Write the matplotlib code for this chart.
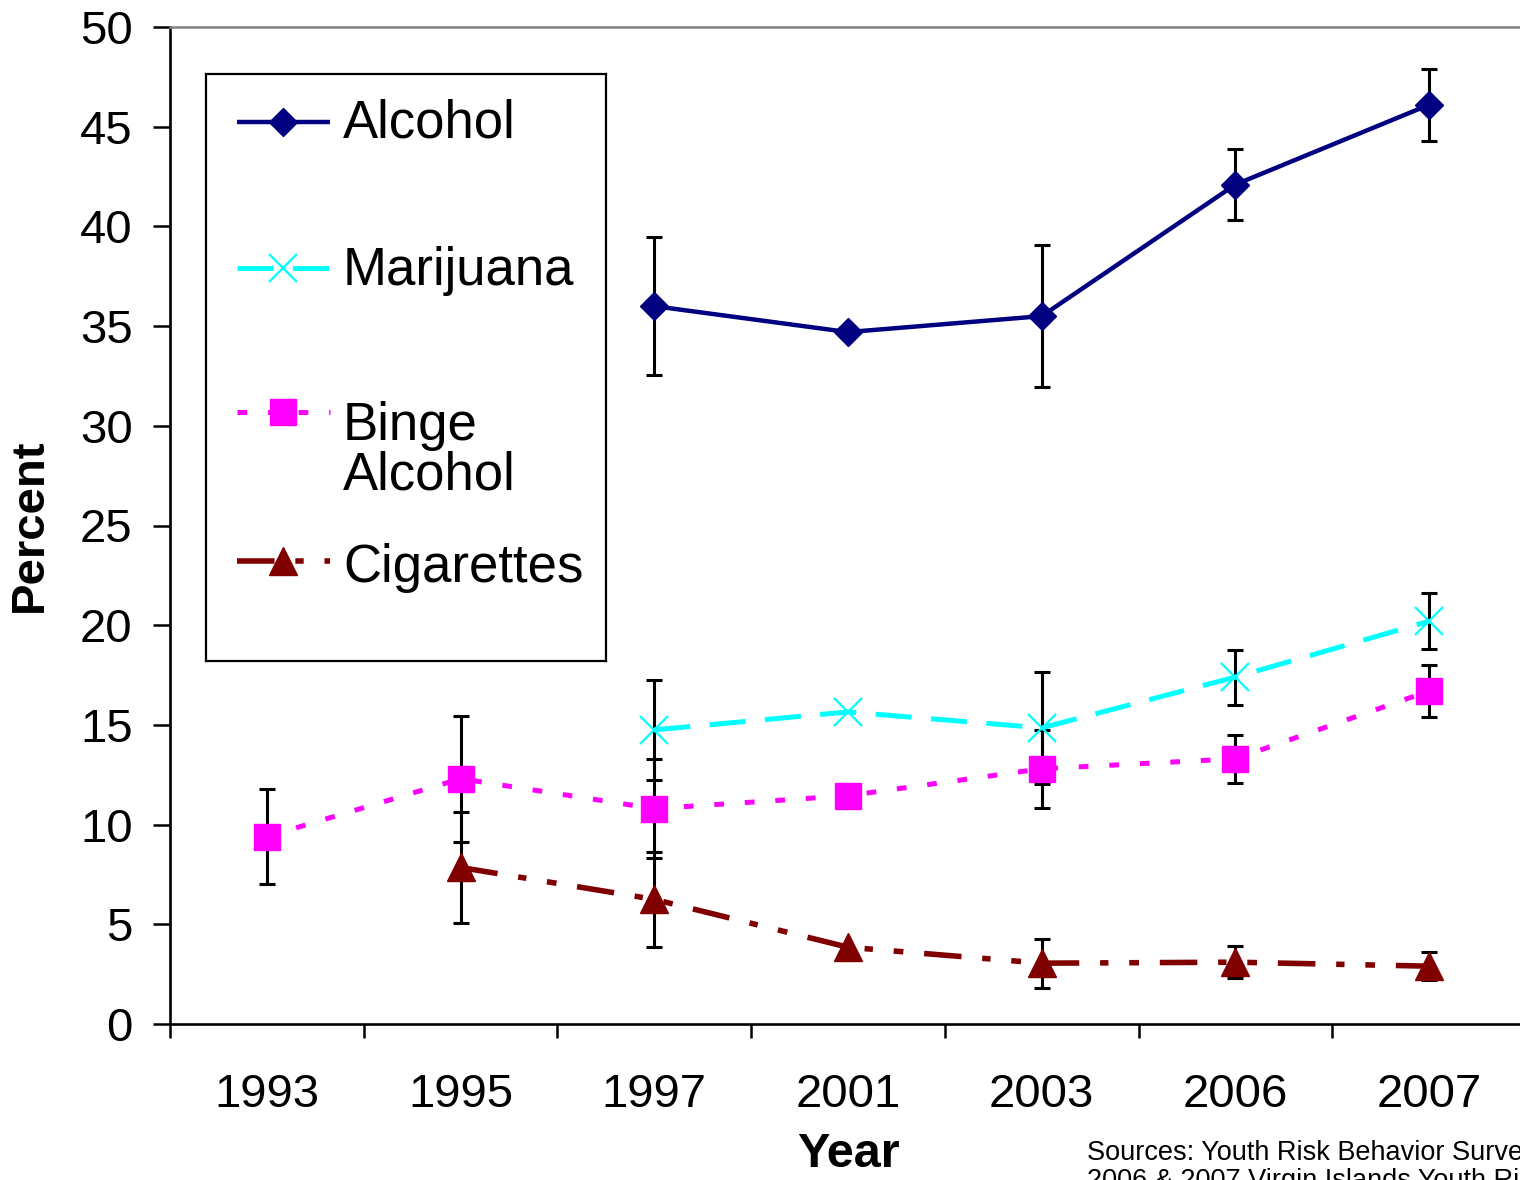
import numpy as np
import matplotlib
matplotlib.use("Agg")
from matplotlib import pyplot as plt
from matplotlib.lines import Line2D

plt.rcParams['font.family'] = ['Liberation Sans', 'DejaVu Sans']
plt.rcParams['lines.scale_dashes'] = False

nan = np.nan
years = ['1993', '1995', '1997', '2001', '2003', '2006', '2007']

alcohol = [nan, nan, 36.0, 34.7, 35.5, 42.1, 46.1]
alcohol_err = [nan, nan, 3.45, nan, 3.55, 1.8, 1.8]

marijuana = [nan, nan, 14.75, 15.65, 14.85, 17.4, 20.2]
marijuana_err = [nan, nan, 2.5, nan, 2.8, 1.38, 1.4]

binge = [9.4, 12.3, 10.8, 11.45, 12.8, 13.3, 16.7]
binge_err = [2.4, 3.15, 2.5, nan, 1.95, 1.2, 1.28]

cigarettes = [nan, 7.85, 6.25, 3.85, 3.05, 3.1, 2.9]
cigarettes_err = [nan, 2.8, 2.4, nan, 1.23, 0.8, 0.7]

series = [
    ('Alcohol', alcohol, alcohol_err,
     dict(color='#000080', lw=3.2, ls='-', marker='D', ms=14.5)),
    ('Marijuana', marijuana, marijuana_err,
     dict(color='#00FFFF', lw=3.6, ls=(0, (26, 14)), marker='x', ms=20, mew=1.6)),
    ('Binge\nAlcohol', binge, binge_err,
     dict(color='#FF00FF', lw=3.6, ls=(0, (7, 15)), marker='s', ms=19)),
    ('Cigarettes', cigarettes, cigarettes_err,
     dict(color='#800000', lw=4, ls=(0, (27, 15, 6, 15, 7, 15)), marker='^', ms=20)),
]

fig = plt.figure(figsize=(15.2, 11.8), dpi=100)
ax = fig.add_axes([170 / 1520, 156 / 1180, 1356 / 1520, 997 / 1180])

x = np.arange(len(years))
for name, vals, errs, st in series:
    ax.errorbar(x, vals, yerr=errs, fmt='none', ecolor='black', elinewidth=2.2,
                capsize=5.6, capthick=2.2, zorder=2)
    ax.plot(x, vals, zorder=3, solid_capstyle='butt', dash_capstyle='butt', **st)

ax.set_xlim(-0.5, len(years) - 0.5)
ax.set_ylim(0, 50)
ax.set_yticks(np.arange(0, 51, 5))
ax.set_xticks(np.arange(-0.5, len(years), 1.0))
ax.set_xticklabels([])
ax.set_xticks(x, minor=True)
ax.set_xticklabels(years, minor=True)
ax.tick_params(axis='y', direction='out', length=12, width=1.8, labelsize=34, pad=15)
ax.tick_params(axis='x', which='major', direction='out', length=10, width=1.8)
ax.tick_params(axis='x', which='minor', length=0, labelsize=34, pad=35)

for s in ['left', 'bottom']:
    ax.spines[s].set_linewidth(1.9)
ax.spines['right'].set_visible(False)
ax.spines['top'].set_color('#808080')
ax.spines['top'].set_linewidth(1.8)

ax.set_ylabel('Percent', fontsize=34, fontweight='bold', labelpad=20)
ax.set_xlabel('Year', fontsize=35, fontweight='bold', labelpad=11)

# legend drawn in its own box, pixel-like coordinates
lg = fig.add_axes([206 / 1520, 1 - 661 / 1180, 400 / 1520, 587 / 1180])
lg.set_xlim(206, 606)
lg.set_ylim(661, 74)
lg.set_xticks([])
lg.set_yticks([])
for s in lg.spines.values():
    s.set_linewidth(1.6)
    s.set_color('black')
hy = [122, 268, 412, 561]
ty = [124, 271, 451, 568]
for (name, vals, errs, st), h, t in zip(series, hy, ty):
    lg.add_line(Line2D([237, 330], [h, h], solid_capstyle='butt',
                       **{k: v for k, v in st.items() if k not in ('marker', 'ms', 'mew')}))
    lg.add_line(Line2D([283], [h], color=st['color'], ls='none', marker=st['marker'],
                       ms=st['ms'], mew=st.get('mew', 1)))
    lg.text(343, t, name, fontsize=38, va='center', ha='left', linespacing=1.0)

fig.text(1087 / 1520, 1 - 1140 / 1180,
         'Sources: Youth Risk Behavior Surveys 1993-2003,\n'
         '2006 & 2007 Virgin Islands Youth Risk Behavior Survey',
         fontsize=19.5, va='top', ha='left', linespacing=1.1)

fig.savefig('out.png', dpi=100)
